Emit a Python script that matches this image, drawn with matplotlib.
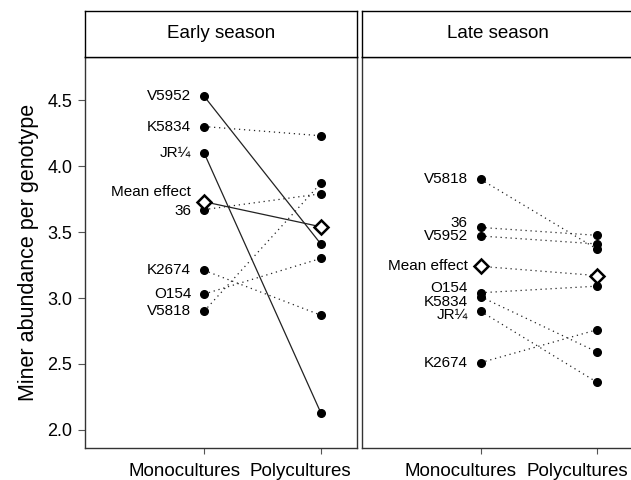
import matplotlib
matplotlib.use("Agg")
from matplotlib import pyplot as plt
from matplotlib.transforms import ScaledTranslation

plt.rcParams['font.family'] = ['Liberation Sans', 'DejaVu Sans']

# genotype data (early season)
early_names = ['V5952', 'K5834', 'JR¼', '36', 'K2674', 'O154', 'V5818']
early_mono = [4.53, 4.30, 4.10, 3.67, 3.21, 3.03, 2.90]
early_poly = [3.41, 4.23, 2.13, 3.79, 2.87, 3.30, 3.87]
early_solid = [True, False, True, False, False, False, False]
early_mean = [3.73, 3.54]

# late season
late_names = ['V5818', '36', 'V5952', 'O154', 'K5834', 'JR¼', 'K2674']
late_mono = [3.90, 3.535, 3.47, 3.04, 3.01, 2.90, 2.51]
late_poly = [3.37, 3.475, 3.41, 3.09, 2.59, 2.36, 2.76]
late_solid = [False] * 7
late_mean = [3.24, 3.17]

seasons = ['Early season', 'Late season']
xlabels = ['Monocultures', 'Polycultures']
yticks = [2.0, 2.5, 3.0, 3.5, 4.0, 4.5]

# label nudges (data units) to avoid overlap
early_nudge = {'36': -0.01, 'Mean effect': 0.07}
late_nudge = {'36': 0.03, 'O154': 0.035, 'K5834': -0.04, 'JR¼': -0.03}

fig = plt.figure(figsize=(6.31, 4.80), dpi=100)
W = 272 / 631
frame_col = '#333333'

panels = [(early_names, early_mono, early_poly, early_solid, early_mean, early_nudge),
          (late_names, late_mono, late_poly, late_solid, late_mean, late_nudge)]
lefts = [85 / 631, 361.5 / 631]
shift = ScaledTranslation(-0.2, 0, fig.dpi_scale_trans)

for i, (names, mono, poly, solid, mean, nudge) in enumerate(panels):
    ax = fig.add_axes([lefts[i], 1 - 448 / 480, W, 391 / 480])
    for n, m, p, s in zip(names, mono, poly, solid):
        ax.plot([1, 2], [m, p], color='#222222', lw=0.9,
                linestyle='-' if s else (0, (1, 3)), zorder=1)
        ax.plot([1, 2], [m, p], 'o', color='black', ms=5.5, zorder=3)
        ax.text(0.89, m + nudge.get(n, 0), n, ha='right', va='center', fontsize=11)
    ax.plot([1, 2], mean, color='#222222', lw=0.9,
            linestyle='-' if i == 0 else (0, (1, 3)), zorder=1)
    ax.plot([1, 2], mean, 'D', mfc='white', mec='black', mew=1.8, ms=7, zorder=4)
    ax.text(0.89, mean[0] + nudge.get('Mean effect', 0), 'Mean effect',
            ha='right', va='center', fontsize=11)

    ax.set_xlim(-0.02, 2.31)
    ax.set_ylim(1.863, 4.827)
    ax.set_xticks([1, 2])
    ax.set_xticklabels(xlabels, fontsize=13.5)
    ax.tick_params(axis='x', length=4, color='#555555', pad=7)
    for lab in ax.get_xticklabels():
        lab.set_transform(lab.get_transform() + shift)
    if i == 0:
        ax.set_yticks(yticks)
        ax.set_yticklabels(['%.1f' % t for t in yticks], fontsize=13)
        ax.tick_params(axis='y', length=5, color='#555555', pad=4)
        ax.set_ylabel('Miner abundance per genotype', fontsize=15.5, labelpad=6)
    else:
        ax.set_yticks([])
    for sp in ax.spines.values():
        sp.set_color(frame_col)
        sp.set_linewidth(1.0)

    strip = fig.add_axes([lefts[i], 1 - 57 / 480, W, 46 / 480])
    strip.set_xticks([])
    strip.set_yticks([])
    for sp in strip.spines.values():
        sp.set_color('black')
        sp.set_linewidth(1.0)
    strip.text(0.5, 0.5, seasons[i], ha='center', va='center', fontsize=13.5,
               transform=strip.transAxes)

fig.savefig('out.png', dpi=100)
